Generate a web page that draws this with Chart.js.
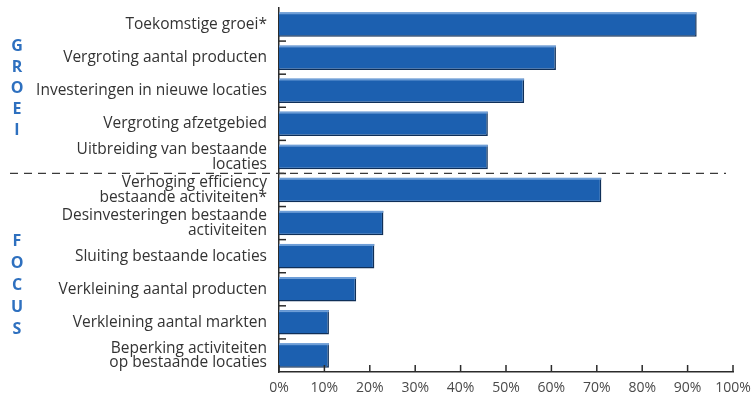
<!DOCTYPE html>
<html>
<head>
<meta charset="utf-8">
<script src="https://cdn.jsdelivr.net/npm/chart.js@4/dist/chart.umd.min.js"></script>
<style>
  html, body { margin: 0; padding: 0; background: #fff; }
  #wrap { width: 751px; height: 403px; }
</style>
</head>
<body>
<div id="wrap"><canvas id="chart" width="751" height="403"></canvas></div>
<script>
// categorieën (boven: groei, onder: focus)
const labels = [
  'Toekomstige groei*',
  'Vergroting aantal producten',
  'Investeringen in nieuwe locaties',
  'Vergroting afzetgebied',
  ['Uitbreiding van bestaande', 'locaties'],
  ['Verhoging efficiency', 'bestaande activiteiten*'],
  ['Desinvesteringen bestaande', 'activiteiten'],
  'Sluiting bestaande locaties',
  'Verkleining aantal producten',
  'Verkleining aantal markten',
  ['Beperking activiteiten', 'op bestaande locaties']
];
const values = [92, 61, 54, 46, 46, 71, 23, 21, 17, 11, 11];
const xTicks = [0, 10, 20, 30, 40, 50, 60, 70, 80, 90, 100];
const groupNames = ['GROEI', 'FOCUS'];
const groupSize = 5; // aantal categorieën in de eerste groep

const BLUE = '#1c60b0';
const AXIS = '#2b2b2b';

// kleine streepjes naar binnen, stippellijn tussen de groepen en de verticale groepsnamen
const extras = {
  id: 'extras',
  afterDatasetsDraw(chart) {
    const ctx = chart.ctx;
    const meta = chart.getDatasetMeta(0);
    ctx.save();
    // lichte bovenrand op elke balk
    meta.data.forEach(bar => {
      const top = bar.y - bar.height / 2;
      ctx.fillStyle = 'rgba(120,165,220,0.9)';
      ctx.fillRect(bar.base, top, bar.x - bar.base, 2);
    });
    ctx.restore();
  },
  afterDraw(chart) {
    const ctx = chart.ctx;
    const x = chart.scales.x, y = chart.scales.y;
    ctx.save();
    ctx.strokeStyle = AXIS;
    ctx.lineWidth = 1.5;
    // x-as streepjes omhoog
    xTicks.forEach(v => {
      const px = x.getPixelForValue(v);
      ctx.beginPath();
      ctx.moveTo(px, y.bottom);
      ctx.lineTo(px, y.bottom - 7);
      ctx.stroke();
    });
    // y-as streepjes tussen de categorieën
    for (let i = 1; i < labels.length; i++) {
      const py = (y.getPixelForTick(i - 1) + y.getPixelForTick(i)) / 2;
      ctx.beginPath();
      ctx.moveTo(x.left, py);
      ctx.lineTo(x.left + 7, py);
      ctx.stroke();
    }
    // stippellijn tussen groei en focus
    const split = (y.getPixelForTick(groupSize - 1) + y.getPixelForTick(groupSize)) / 2;
    ctx.setLineDash([8, 6]);
    ctx.strokeStyle = '#3a3a3a';
    ctx.lineWidth = 1.3;
    ctx.beginPath();
    ctx.moveTo(10, split);
    ctx.lineTo(x.right - 7, split);
    ctx.stroke();
    ctx.setLineDash([]);
    // groepsnamen verticaal
    ctx.fillStyle = '#2e70bf';
    ctx.font = 'bold 16px "Open Sans", sans-serif';
    ctx.textAlign = 'center';
    ctx.textBaseline = 'middle';
    const c1 = (y.getPixelForTick(0) + y.getPixelForTick(groupSize - 1)) / 2 - 2;
    const c2 = (y.getPixelForTick(groupSize) + y.getPixelForTick(labels.length - 1)) / 2 + 13;
    [[groupNames[0], c1, 21], [groupNames[1], c2, 22]].forEach(([word, c, step]) => {
      const letters = word.split('');
      letters.forEach((ch, k) => {
        ctx.fillText(ch, 17, c + (k - (letters.length - 1) / 2) * step);
      });
    });
    ctx.restore();
  }
};

new Chart(document.getElementById('chart'), {
  type: 'bar',
  data: {
    labels: labels,
    datasets: [{
      data: values,
      backgroundColor: BLUE,
      borderColor: '#0f2f58',
      borderWidth: { top: 0, right: 1.5, bottom: 1.5, left: 0 },
      borderSkipped: false,
      barPercentage: 0.74,
      categoryPercentage: 1
    }]
  },
  options: {
    indexAxis: 'y',
    responsive: false,
    animation: false,
    layout: { padding: { top: 8, right: 18, bottom: 0, left: 0 } },
    plugins: { legend: { display: false }, tooltip: { enabled: false } },
    scales: {
      x: {
        min: 0,
        max: 100,
        afterBuildTicks: s => { s.ticks = xTicks.map(v => ({ value: v })); },
        afterFit: s => { s.height = 31; s.paddingLeft = 0; s.paddingRight = 0; },
        grid: { display: false, drawTicks: false },
        border: { display: true, color: AXIS, width: 1.5 },
        ticks: {
          padding: 8,
          color: '#4a4a4a',
          font: { family: '"Open Sans", sans-serif', size: 14 },
          callback: v => v + '%'
        }
      },
      y: {
        afterFit: s => { s.width = 279; s.paddingTop = 0; s.paddingBottom = 0; },
        grid: { display: false, drawTicks: false },
        border: { display: true, color: AXIS, width: 1.5 },
        ticks: {
          padding: 12,
          color: '#333',
          font: { family: '"Open Sans", sans-serif', size: 15.5, lineHeight: 0.95 }
        }
      }
    }
  },
  plugins: [extras]
});
</script>
</body>
</html>
